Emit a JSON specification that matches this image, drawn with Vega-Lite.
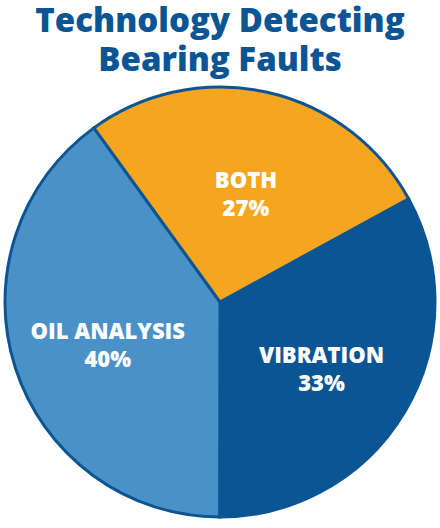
{
  "$schema": "https://vega.github.io/schema/vega-lite/v6.json",
  "width": 440,
  "height": 444,
  "autosize": {"type": "none"},
  "padding": {"top": 80, "left": 0, "right": 0, "bottom": 4},
  "background": "white",
  "title": {
    "text": ["Technology Detecting", "Bearing Faults"],
    "font": "Open Sans",
    "fontSize": 33,
    "fontWeight": 800,
    "color": "#0b5595",
    "lineHeight": 39,
    "anchor": "middle",
    "offset": 2
  },
  "data": {
    "values": [
      {"category": "VIBRATION", "pct": "33%", "value": 33, "order": 1},
      {"category": "OIL ANALYSIS", "pct": "40%", "value": 40, "order": 2},
      {"category": "BOTH", "pct": "27%", "value": 27, "order": 3}
    ]
  },
  "encoding": {
    "theta": {"field": "value", "type": "quantitative", "stack": true, "scale": {"range": [1.07, 7.353]}},
    "order": {"field": "order", "type": "quantitative"}
  },
  "layer": [
    {
      "mark": {"type": "arc", "outerRadius": 215, "stroke": "#0b5595", "strokeWidth": 3},
      "encoding": {
        "color": {
          "field": "category",
          "type": "nominal",
          "scale": {"domain": ["VIBRATION", "OIL ANALYSIS", "BOTH"], "range": ["#0b5595", "#4a91c8", "#f6a61e"]},
          "legend": null
        }
      }
    },
    {
      "mark": {"type": "text", "radius": 118, "dy": -6, "font": "Open Sans", "fontWeight": 800, "fontSize": 22, "fill": "white"},
      "encoding": {"text": {"field": "category"}, "detail": {"field": "category"}}
    },
    {
      "mark": {"type": "text", "radius": 118, "dy": 22, "font": "Open Sans", "fontWeight": 800, "fontSize": 22, "fill": "white"},
      "encoding": {"text": {"field": "pct"}, "detail": {"field": "category"}}
    }
  ]
}
